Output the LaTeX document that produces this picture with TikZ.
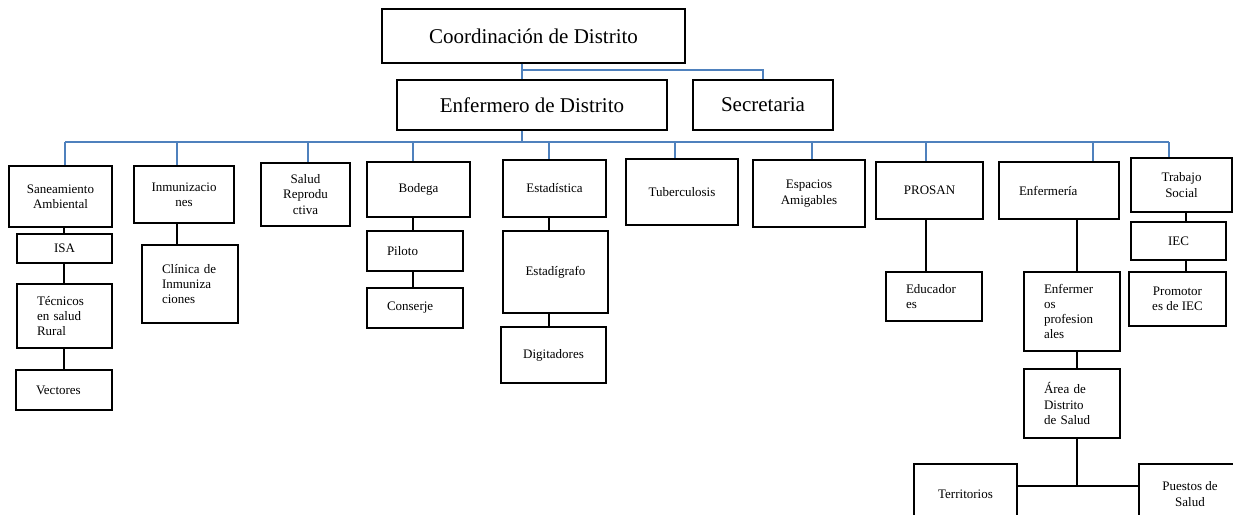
\documentclass[tikz,border=0pt]{standalone}
\usepackage{fontspec}
\setmainfont{Liberation Serif}
\begin{document}
\begin{tikzpicture}[x=1pt,y=-1pt,
  bx/.style={draw=black, line width=1.2pt, fill=white, align=center, inner sep=2pt,
    font=\fontsize{13}{15.3}\selectfont},
  lbox/.style={bx, align=left, inner xsep=20pt},
  big/.style={draw=black, line width=1.2pt, fill=white, align=center,
    font=\fontsize{21}{24}\selectfont},
  blueline/.style={draw={rgb,255:red,79;green,129;blue,189}, line width=1.6pt},
  conn/.style={draw=black, line width=2pt}]
\clip (0,0) rectangle (1233,514);
\fill[white] (0,0) rectangle (1233,514);

% top levels
\node[big, minimum width=303pt, minimum height=54pt] (coord) at (533.5,36) {Coordinación de Distrito};
\node[big, minimum width=270pt, minimum height=50pt] (enf) at (532,105) {Enfermero de Distrito};
\node[big, minimum width=140pt, minimum height=50pt] (sec) at (763,105) {Secretaria};

% second level
\node[bx, minimum width=103pt, minimum height=61pt] (san) at (60.5,196.5) {Saneamiento\\Ambiental};
\node[bx, minimum width=100pt, minimum height=57pt] (inm) at (184,194.5) {Inmunizacio\\nes};
\node[bx, minimum width=89pt, minimum height=63pt] (sal) at (305.5,194.5) {Salud\\Reprodu\\ctiva};
\node[bx, minimum width=103pt, minimum height=55pt] (bod) at (418.5,189.5) {Bodega};
\node[bx, minimum width=103pt, minimum height=57pt] (est) at (554.5,188.5) {Estadística};
\node[bx, minimum width=112pt, minimum height=66pt] (tub) at (682,192) {Tuberculosis};
\node[bx, minimum width=112pt, minimum height=67pt] (esp) at (809,193.5) {Espacios\\Amigables};
\node[bx, minimum width=107pt, minimum height=57pt] (pro) at (929.5,190.5) {PROSAN};
\node[lbox, text width=80pt, minimum height=57pt] (enfa) at (1059,190.5) {Enfermería};
\node[bx, minimum width=101pt, minimum height=54pt] (tra) at (1181.5,185) {Trabajo\\Social};

% lower levels
\node[bx, minimum width=95pt, minimum height=29pt] (isa) at (64.5,248.5) {ISA};
\node[lbox, text width=55pt, minimum height=64pt] (tec) at (64.5,316) {Técnicos\\en salud\\Rural};
\node[lbox, text width=56pt, minimum height=40pt] (vec) at (64,390) {Vectores};
\node[lbox, text width=56pt, minimum height=78pt] (cli) at (190,284) {Clínica de\\Inmuniza\\ciones};
\node[lbox, text width=56pt, minimum height=40pt] (pil) at (415,251) {Piloto};
\node[lbox, text width=56pt, minimum height=40pt] (con) at (415,308) {Conserje};
\node[bx, minimum width=105pt, minimum height=82pt] (esg) at (555.5,272) {Estadígrafo};
\node[bx, minimum width=105pt, minimum height=56pt] (dig) at (553.5,355) {Digitadores};
\node[lbox, text width=56pt, minimum height=49pt] (edu) at (934,296.5) {Educador\\es};
\node[lbox, text width=56pt, minimum height=79pt] (enp) at (1072,311.5) {Enfermer\\os\\profesion\\ales};
\node[lbox, text width=56pt, minimum height=69pt] (are) at (1072,403.5) {Área de\\Distrito\\de Salud};
\node[bx, minimum width=95pt, minimum height=38pt] (iec) at (1178.5,241) {IEC};
\node[bx, minimum width=97pt, minimum height=54pt] (prm) at (1177.5,299) {Promotor\\es de IEC};
\node[bx, minimum width=103pt, minimum height=60pt] (ter) at (965.5,494) {Territorios};
\node[bx, minimum width=102pt, minimum height=60pt] (pue) at (1190,494) {Puestos de\\Salud};

% blue connectors
\coordinate (xtop) at (522,142);
\coordinate (secj) at (522,70);
\coordinate (dsan) at (65,142);
\coordinate (dinm) at (177,142);
\coordinate (dsal) at (308,142);
\coordinate (dbod) at (413,142);
\coordinate (dest) at (549,142);
\coordinate (dtub) at (675,142);
\coordinate (desp) at (812,142);
\coordinate (dpro) at (926,142);
\coordinate (denf) at (1093,142);
\coordinate (dtra) at (1169,142);
\draw[blueline] (coord.south -| xtop) -- (enf.north -| xtop);
\draw[blueline] (secj) -| (sec.north);
\draw[blueline] (enf.south -| xtop) -- (xtop);
\draw[blueline] (dsan) -- (dtra);
\foreach \d/\n in {dsan/san, dinm/inm, dsal/sal, dbod/bod, dest/est, dtub/tub, desp/esp, dpro/pro, denf/enfa, dtra/tra}
  \draw[blueline] (\d) -- (\d |- \n.north);

% black connectors
\coordinate (xsan) at (64,0);
\coordinate (xinm) at (177,0);
\coordinate (xbod) at (413,0);
\coordinate (xest) at (549,0);
\coordinate (xpro) at (926,0);
\coordinate (xenf) at (1077,0);
\coordinate (xtra) at (1186,0);
\coordinate (jn) at (1077,486);
\draw[conn] (san.south -| xsan) -- (isa.north -| xsan);
\draw[conn] (isa.south -| xsan) -- (tec.north -| xsan);
\draw[conn] (tec.south -| xsan) -- (vec.north -| xsan);
\draw[conn] (inm.south -| xinm) -- (cli.north -| xinm);
\draw[conn] (bod.south -| xbod) -- (pil.north -| xbod);
\draw[conn] (pil.south -| xbod) -- (con.north -| xbod);
\draw[conn] (est.south -| xest) -- (esg.north -| xest);
\draw[conn] (esg.south -| xest) -- (dig.north -| xest);
\draw[conn] (pro.south -| xpro) -- (edu.north -| xpro);
\draw[conn] (enfa.south -| xenf) -- (enp.north -| xenf);
\draw[conn] (enp.south -| xenf) -- (are.north -| xenf);
\draw[conn] (are.south -| xenf) -- (jn);
\draw[conn] (ter.east |- jn) -- (pue.west |- jn);
\draw[conn] (tra.south -| xtra) -- (iec.north -| xtra);
\draw[conn] (iec.south -| xtra) -- (prm.north -| xtra);
\end{tikzpicture}
\end{document}
